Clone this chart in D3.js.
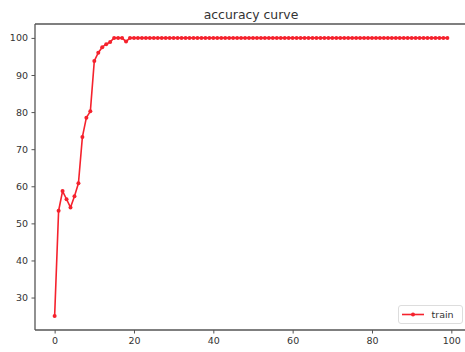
<!DOCTYPE html>
<html>
<head>
<meta charset="utf-8">
<script src="https://cdn.jsdelivr.net/npm/d3@7"></script>
<style>
  html, body { margin: 0; padding: 0; background: #fff; }
  svg { display: block; }
  text { font-family: "DejaVu Sans", sans-serif; }
</style>
</head>
<body>
<svg id="chart" width="465" height="352"></svg>
<script>
const title = "accuracy curve";
const seriesName = "train";
const trainAccuracy = [
  25.0, 53.4, 58.7, 56.5, 54.3, 57.3, 60.8, 73.3, 78.5, 80.2,
  93.8, 96.0, 97.5, 98.3, 98.9, 100, 100, 100, 99.0, 100,
  100, 100, 100, 100, 100, 100, 100, 100, 100, 100,
  100, 100, 100, 100, 100, 100, 100, 100, 100, 100,
  100, 100, 100, 100, 100, 100, 100, 100, 100, 100,
  100, 100, 100, 100, 100, 100, 100, 100, 100, 100,
  100, 100, 100, 100, 100, 100, 100, 100, 100, 100,
  100, 100, 100, 100, 100, 100, 100, 100, 100, 100,
  100, 100, 100, 100, 100, 100, 100, 100, 100, 100,
  100, 100, 100, 100, 100, 100, 100, 100, 100, 100
];
const xTicks = [0, 20, 40, 60, 80, 100];
const yTicks = [30, 40, 50, 60, 70, 80, 90, 100];

(function () {
const svg = d3.select("#chart");
const mLeft = 35, mRight = 467, mTop = 24, mBottom = 330;

const n = trainAccuracy.length;
const xPad = (n - 1) * 0.05;
const yMin = d3.min(trainAccuracy), yMax = d3.max(trainAccuracy);
const yPad = (yMax - yMin) * 0.05;

const x = d3.scaleLinear().domain([0 - xPad, (n - 1) + xPad]).range([mLeft, mRight]);
const y = d3.scaleLinear().domain([yMin - yPad, yMax + yPad]).range([mBottom, mTop]);

const axisColor = "#555";
const textColor = "#333";

// Title
svg.append("text")
  .attr("x", (mLeft + mRight) / 2)
  .attr("y", 18.5)
  .attr("text-anchor", "middle")
  .attr("font-size", "12.4px")
  .attr("fill", textColor)
  .text(title);

// Axes
const xAxis = d3.axisBottom(x).tickValues(xTicks).tickSize(3.5).tickPadding(3.5).tickFormat(d3.format("d"));
const yAxis = d3.axisLeft(y).tickValues(yTicks).tickSize(3.5).tickPadding(3.5).tickFormat(d3.format("d"));

const gx = svg.append("g").attr("transform", `translate(0,${mBottom})`).call(xAxis);
const gy = svg.append("g").attr("transform", `translate(${mLeft},0)`).call(yAxis);
[gx, gy].forEach(g => {
  g.select(".domain").remove();
  g.selectAll(".tick line").attr("stroke", axisColor).attr("stroke-width", 1);
  g.selectAll(".tick text").attr("fill", textColor).attr("font-size", "9.5px")
    .attr("font-family", "DejaVu Sans, sans-serif");
});

// Spines
const spine = svg.append("g").attr("stroke", axisColor).attr("stroke-width", 1.3).attr("fill", "none");
spine.append("line").attr("x1", mLeft).attr("x2", mLeft).attr("y1", mTop).attr("y2", mBottom);
spine.append("line").attr("x1", mLeft).attr("x2", mRight).attr("y1", mBottom).attr("y2", mBottom);
spine.append("line").attr("x1", mLeft).attr("x2", mRight).attr("y1", mTop).attr("y2", mTop);
spine.append("line").attr("x1", mRight).attr("x2", mRight).attr("y1", mTop).attr("y2", mBottom);

// Line
const red = "#f5222d";
const line = d3.line().x((d, i) => x(i)).y(d => y(d));
svg.append("path")
  .datum(trainAccuracy)
  .attr("fill", "none")
  .attr("stroke", red)
  .attr("stroke-width", 1.6)
  .attr("stroke-linejoin", "round")
  .attr("d", line);

svg.append("g").selectAll("circle")
  .data(trainAccuracy)
  .join("circle")
  .attr("cx", (d, i) => x(i))
  .attr("cy", d => y(d))
  .attr("r", 2)
  .attr("fill", red);

// Legend
const lg = svg.append("g");
lg.append("rect")
  .attr("x", 398.5).attr("y", 305.5).attr("width", 64).attr("height", 18)
  .attr("rx", 2.5).attr("fill", "#fff").attr("stroke", "#ddd").attr("stroke-width", 1);
lg.append("line")
  .attr("x1", 402).attr("x2", 424).attr("y1", 314.5).attr("y2", 314.5)
  .attr("stroke", red).attr("stroke-width", 1.6);
lg.append("circle").attr("cx", 413).attr("cy", 314.5).attr("r", 2).attr("fill", red);
lg.append("text")
  .attr("x", 431.5).attr("y", 318)
  .attr("font-size", "9.5px").attr("fill", textColor)
  .text(seriesName);
})();
</script>
</body>
</html>
